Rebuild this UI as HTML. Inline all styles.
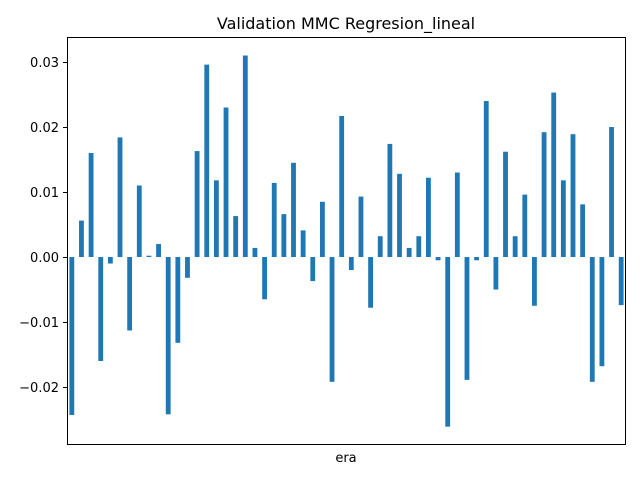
<!DOCTYPE html>
<html><head><meta charset="utf-8"><style>
body{margin:0;background:#fff;}
svg text{font-family:"DejaVu Sans","Liberation Sans",sans-serif;}
</style></head><body>
<svg id="chart" width="640" height="480" xmlns="http://www.w3.org/2000/svg">
<rect width="640" height="480" fill="#fff"/>
<text x="346" y="29" font-size="16" text-anchor="middle">Validation MMC Regresion_lineal</text>
<g id="bars"></g>
<g id="yticks"></g>
<rect x="67.5" y="37.5" width="558" height="407" fill="none" stroke="#000" stroke-width="1"/>
<text x="346" y="462" font-size="13" text-anchor="middle">era</text>
</svg>
<script>
const values = [-0.0243,0.0056,0.016,-0.016,-0.001,0.0184,-0.0113,0.011,0.0002,0.002,-0.0242,-0.0132,-0.0032,0.0163,0.0296,0.0118,0.023,0.0063,0.031,0.0014,-0.0065,0.0114,0.0066,0.0145,0.0041,-0.0037,0.0085,-0.0192,0.0217,-0.002,0.0093,-0.0078,0.0032,0.0174,0.0128,0.0014,0.0032,0.0122,-0.0005,-0.0261,0.013,-0.0189,-0.0005,0.024,-0.005,0.0162,0.0032,0.0096,-0.0075,0.0192,0.0253,0.0118,0.0189,0.0081,-0.0192,-0.0168,0.02,-0.0074];
const tickValues = [-0.02,-0.01,0,0.01,0.02,0.03];
const tickLabels = ["−0.02","−0.01","0.00","0.01","0.02","0.03"];
const X0=67, X1=626, Y0=37, Y1=445;
const yMin=-0.02892, yMax=0.03385;
const ns="http://www.w3.org/2000/svg";
function y(v){return Y1-(v-yMin)/(yMax-yMin)*(Y1-Y0);}
function x(i){return X0+(i+0.5)/values.length*(X1-X0);}
const bw=0.5*(X1-X0)/values.length;
const bars=document.getElementById('bars');
values.forEach((v,i)=>{
  const r=document.createElementNS(ns,'rect');
  r.setAttribute('x',x(i)-bw/2);
  r.setAttribute('y',Math.min(y(v),y(0)));
  r.setAttribute('width',bw);
  r.setAttribute('height',Math.abs(y(v)-y(0)));
  r.setAttribute('fill','#1f77b4');
  
  
  bars.appendChild(r);
});
const yt=document.getElementById('yticks');
tickValues.forEach((t,i)=>{
  const yy=Math.round(y(t))+0.5;
  const l=document.createElementNS(ns,'line');
  l.setAttribute('x1',63);l.setAttribute('x2',67);l.setAttribute('y1',yy);l.setAttribute('y2',yy);
  l.setAttribute('stroke','#000');
  
  
  yt.appendChild(l);
  const tx=document.createElementNS(ns,'text');
  tx.setAttribute('x',59);tx.setAttribute('y',yy+4.5);
  tx.setAttribute('font-size','13');tx.setAttribute('text-anchor','end');
  tx.textContent=tickLabels[i];
  
  
  yt.appendChild(tx);
});
</script>
</body></html>
